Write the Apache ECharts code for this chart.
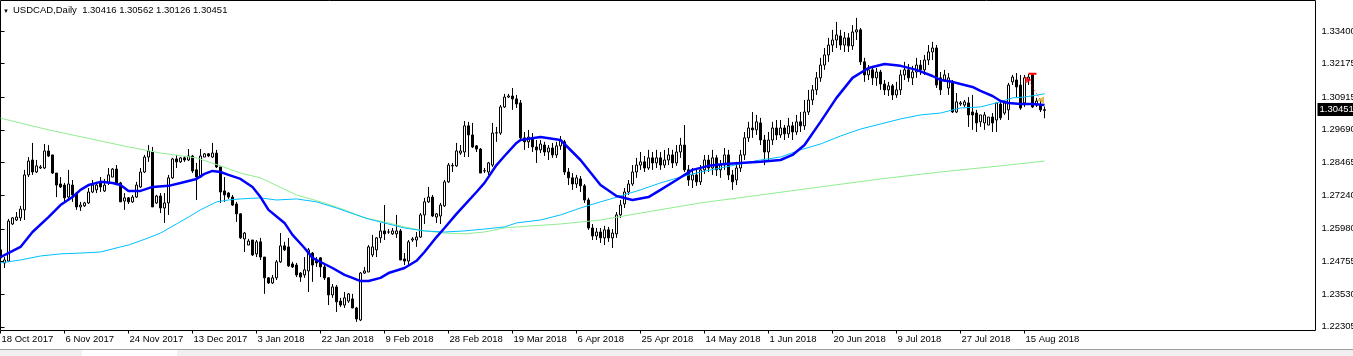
<!DOCTYPE html>
<html><head><meta charset="utf-8">
<script src="https://cdn.jsdelivr.net/npm/echarts@6/dist/echarts.min.js"></script>
<style>html,body{margin:0;padding:0;background:#fff;}#c{width:1353px;height:356px;}</style>
</head><body><div id="c"></div>
<script>
const symbolName = 'USDCAD,Daily';
const lastQuote = [1.30416, 1.30562, 1.30126, 1.30451]; // open high low close of last bar
const tickLabels = ['18 Oct 2017','6 Nov 2017','24 Nov 2017','13 Dec 2017','3 Jan 2018','22 Jan 2018','9 Feb 2018','28 Feb 2018','19 Mar 2018','6 Apr 2018','25 Apr 2018','14 May 2018','1 Jun 2018','20 Jun 2018','9 Jul 2018','27 Jul 2018','15 Aug 2018'];
const yTickValues = [1.22305,1.23530,1.24755,1.25980,1.27240,1.28465,1.29690,1.30915,1.32175,1.33400];
// daily bars: [open, close, low, high]
const ohlc = [
[1.2519,1.2489,1.2470,1.2530],[1.2470,1.2481,1.2451,1.2492],[1.2477,1.2627,1.2474,1.2635],[1.2616,1.2639,1.2612,1.2642],
[1.2631,1.2642,1.2627,1.2661],[1.2639,1.2672,1.2627,1.2684],[1.2669,1.2800,1.2631,1.2819],[1.2800,1.2852,1.2792,1.2867],
[1.2856,1.2811,1.2800,1.2920],[1.2811,1.2834,1.2807,1.2856],[1.2826,1.2830,1.2822,1.2837],[1.2826,1.2890,1.2822,1.2916],
[1.2890,1.2871,1.2867,1.2912],[1.2875,1.2807,1.2804,1.2875],[1.2807,1.2762,1.2717,1.2807],[1.2766,1.2755,1.2751,1.2792],
[1.2762,1.2714,1.2699,1.2770],[1.2717,1.2766,1.2706,1.2819],[1.2762,1.2725,1.2699,1.2781],[1.2732,1.2680,1.2669,1.2736],
[1.2680,1.2687,1.2665,1.2699],[1.2684,1.2695,1.2680,1.2699],[1.2695,1.2736,1.2691,1.2751],[1.2736,1.2762,1.2732,1.2781],
[1.2744,1.2762,1.2732,1.2774],[1.2770,1.2755,1.2736,1.2792],[1.2740,1.2762,1.2736,1.2785],[1.2770,1.2800,1.2762,1.2826],
[1.2792,1.2822,1.2792,1.2826],[1.2822,1.2770,1.2762,1.2837],[1.2770,1.2699,1.2699,1.2774],[1.2702,1.2714,1.2669,1.2732],
[1.2714,1.2699,1.2691,1.2717],[1.2699,1.2717,1.2695,1.2725],[1.2717,1.2762,1.2714,1.2774],[1.2755,1.2811,1.2751,1.2826],
[1.2811,1.2867,1.2807,1.2875],[1.2867,1.2890,1.2849,1.2912],[1.2886,1.2680,1.2680,1.2905],[1.2695,1.2721,1.2691,1.2725],
[1.2721,1.2676,1.2657,1.2732],[1.2676,1.2695,1.2620,1.2732],[1.2695,1.2789,1.2650,1.2800],[1.2789,1.2860,1.2785,1.2864],
[1.2860,1.2849,1.2826,1.2875],[1.2849,1.2864,1.2845,1.2867],[1.2864,1.2856,1.2849,1.2871],[1.2856,1.2871,1.2852,1.2897],
[1.2871,1.2815,1.2807,1.2875],[1.2819,1.2792,1.2706,1.2845],[1.2792,1.2871,1.2789,1.2897],[1.2867,1.2879,1.2867,1.2882],
[1.2879,1.2871,1.2867,1.2882],[1.2867,1.2882,1.2864,1.2920],[1.2882,1.2830,1.2826,1.2894],[1.2830,1.2736,1.2695,1.2830],
[1.2740,1.2725,1.2699,1.2792],[1.2732,1.2717,1.2710,1.2736],[1.2717,1.2687,1.2684,1.2725],[1.2691,1.2654,1.2624,1.2699],
[1.2654,1.2564,1.2560,1.2657],[1.2560,1.2582,1.2511,1.2586],[1.2537,1.2552,1.2537,1.2560],[1.2556,1.2500,1.2496,1.2556],
[1.2504,1.2549,1.2492,1.2556],[1.2549,1.2492,1.2481,1.2564],[1.2492,1.2414,1.2354,1.2492],[1.2414,1.2395,1.2391,1.2417],
[1.2395,1.2414,1.2391,1.2425],[1.2414,1.2474,1.2406,1.2481],[1.2474,1.2534,1.2470,1.2582],[1.2534,1.2519,1.2515,1.2549],
[1.2530,1.2459,1.2455,1.2564],[1.2466,1.2455,1.2451,1.2474],[1.2462,1.2425,1.2417,1.2470],[1.2432,1.2417,1.2399,1.2436],
[1.2425,1.2444,1.2414,1.2492],[1.2440,1.2519,1.2361,1.2526],[1.2507,1.2462,1.2399,1.2511],[1.2481,1.2470,1.2455,1.2492],
[1.2489,1.2455,1.2417,1.2492],[1.2455,1.2414,1.2406,1.2466],[1.2414,1.2350,1.2312,1.2417],[1.2350,1.2380,1.2339,1.2391],
[1.2380,1.2324,1.2286,1.2387],[1.2327,1.2312,1.2305,1.2339],[1.2312,1.2339,1.2301,1.2361],[1.2327,1.2354,1.2320,1.2357],
[1.2335,1.2301,1.2301,1.2354],[1.2301,1.2260,1.2249,1.2305],[1.2256,1.2432,1.2252,1.2436],[1.2432,1.2440,1.2429,1.2455],
[1.2436,1.2530,1.2436,1.2537],[1.2500,1.2530,1.2492,1.2575],[1.2519,1.2564,1.2492,1.2567],[1.2564,1.2590,1.2545,1.2620],
[1.2590,1.2579,1.2556,1.2687],[1.2586,1.2586,1.2579,1.2597],[1.2579,1.2590,1.2575,1.2601],[1.2579,1.2590,1.2564,1.2650],
[1.2590,1.2481,1.2481,1.2597],[1.2485,1.2477,1.2462,1.2507],[1.2477,1.2549,1.2462,1.2556],[1.2556,1.2560,1.2549,1.2567],
[1.2556,1.2567,1.2530,1.2586],[1.2567,1.2650,1.2564,1.2657],[1.2650,1.2699,1.2616,1.2714],[1.2699,1.2717,1.2695,1.2755],
[1.2717,1.2646,1.2642,1.2725],[1.2642,1.2654,1.2620,1.2657],[1.2646,1.2687,1.2616,1.2695],[1.2684,1.2774,1.2680,1.2781],
[1.2774,1.2837,1.2770,1.2845],[1.2834,1.2836,1.2811,1.2845],[1.2834,1.2890,1.2830,1.2920],[1.2882,1.2890,1.2875,1.2912],
[1.2886,1.2984,1.2867,1.3002],[1.2984,1.2950,1.2867,1.2999],[1.2950,1.2905,1.2901,1.2995],[1.2909,1.2897,1.2886,1.2912],
[1.2897,1.2807,1.2807,1.2901],[1.2815,1.2816,1.2807,1.2826],[1.2811,1.2845,1.2800,1.2849],[1.2837,1.2957,1.2830,1.2995],
[1.2957,1.2958,1.2924,1.2980],[1.2957,1.3055,1.2950,1.3062],[1.3055,1.3092,1.3051,1.3104],[1.3092,1.3096,1.3089,1.3104],
[1.3096,1.3085,1.3044,1.3126],
[1.3085,1.3066,1.3051,1.3100],[1.3070,1.2939,1.2931,1.3081],[1.2939,1.2924,1.2894,1.2961],[1.2924,1.2942,1.2901,1.2969],
[1.2939,1.2905,1.2886,1.2957],[1.2905,1.2894,1.2845,1.2931],[1.2894,1.2916,1.2882,1.2931],[1.2912,1.2886,1.2871,1.2924],
[1.2886,1.2901,1.2856,1.2912],[1.2901,1.2875,1.2864,1.2920],[1.2875,1.2909,1.2864,1.2924],[1.2909,1.2931,1.2894,1.2946],
[1.2924,1.2811,1.2800,1.2931],[1.2811,1.2789,1.2762,1.2826],[1.2789,1.2766,1.2744,1.2807],[1.2766,1.2789,1.2751,1.2800],
[1.2785,1.2759,1.2736,1.2796],[1.2759,1.2706,1.2695,1.2766],[1.2706,1.2601,1.2594,1.2714],[1.2601,1.2571,1.2556,1.2616],
[1.2571,1.2586,1.2556,1.2601],[1.2586,1.2564,1.2545,1.2601],[1.2564,1.2594,1.2537,1.2609],[1.2594,1.2564,1.2549,1.2605],
[1.2564,1.2582,1.2526,1.2597],[1.2579,1.2650,1.2564,1.2661],[1.2650,1.2687,1.2639,1.2706],[1.2691,1.2736,1.2676,1.2751],
[1.2736,1.2766,1.2725,1.2781],[1.2766,1.2811,1.2759,1.2837],[1.2811,1.2837,1.2789,1.2864],[1.2837,1.2849,1.2819,1.2886],
[1.2849,1.2826,1.2811,1.2871],[1.2826,1.2864,1.2819,1.2894],[1.2864,1.2845,1.2819,1.2886],[1.2845,1.2864,1.2826,1.2894],
[1.2864,1.2837,1.2819,1.2886],[1.2837,1.2856,1.2826,1.2894],[1.2856,1.2875,1.2837,1.2901],[1.2875,1.2845,1.2826,1.2894],
[1.2845,1.2886,1.2834,1.2912],[1.2886,1.2912,1.2864,1.2939],[1.2912,1.2819,1.2811,1.2987],[1.2819,1.2781,1.2759,1.2837],
[1.2781,1.2800,1.2751,1.2826],[1.2800,1.2774,1.2759,1.2819],[1.2774,1.2819,1.2762,1.2837],[1.2819,1.2856,1.2804,1.2875],
[1.2856,1.2826,1.2811,1.2875],[1.2826,1.2864,1.2800,1.2894],[1.2864,1.2819,1.2796,1.2875],[1.2819,1.2837,1.2789,1.2856],
[1.2837,1.2875,1.2819,1.2901],[1.2875,1.2800,1.2781,1.2894],[1.2800,1.2774,1.2744,1.2819],[1.2781,1.2826,1.2762,1.2849],
[1.2826,1.2875,1.2811,1.2894],[1.2875,1.2939,1.2856,1.2961],[1.2939,1.2976,1.2924,1.2999],[1.2976,1.2969,1.2939,1.3036],
[1.2969,1.2999,1.2950,1.3025],[1.2995,1.2931,1.2912,1.3014],[1.2931,1.2886,1.2837,1.2950],[1.2886,1.2931,1.2856,1.2961],
[1.2931,1.2976,1.2912,1.2999],[1.2976,1.2950,1.2931,1.3006],[1.2950,1.2976,1.2939,1.3006],[1.2976,1.2954,1.2931,1.2987],
[1.2954,1.2984,1.2939,1.3014],[1.2984,1.2961,1.2931,1.2999],[1.2961,1.2999,1.2950,1.3025],[1.2999,1.2984,1.2961,1.3036],
[1.2984,1.3036,1.2969,1.3081],[1.3036,1.3081,1.3025,1.3119],[1.3081,1.3119,1.3062,1.3137],[1.3119,1.3164,1.3100,1.3186],
[1.3164,1.3212,1.3149,1.3239],[1.3212,1.3250,1.3194,1.3276],[1.3250,1.3287,1.3224,1.3314],[1.3287,1.3306,1.3261,1.3344],
[1.3306,1.3325,1.3276,1.3374],[1.3321,1.3287,1.3269,1.3344],[1.3287,1.3314,1.3261,1.3336],[1.3314,1.3284,1.3261,1.3332],
[1.3284,1.3336,1.3269,1.3362],[1.3336,1.3344,1.3306,1.3389],[1.3344,1.3224,1.3212,1.3351],[1.3224,1.3175,1.3149,1.3239],
[1.3175,1.3194,1.3156,1.3212],[1.3194,1.3164,1.3137,1.3209],[1.3164,1.3186,1.3134,1.3201],[1.3186,1.3141,1.3119,1.3194],
[1.3141,1.3119,1.3100,1.3156],[1.3119,1.3134,1.3096,1.3149],[1.3134,1.3100,1.3081,1.3141],[1.3100,1.3119,1.3089,1.3149],
[1.3119,1.3175,1.3100,1.3194],[1.3175,1.3194,1.3156,1.3224],[1.3194,1.3164,1.3149,1.3216],[1.3164,1.3186,1.3137,1.3209],
[1.3186,1.3212,1.3164,1.3239],[1.3212,1.3194,1.3175,1.3231],[1.3194,1.3231,1.3175,1.3250],[1.3231,1.3261,1.3212,1.3287],
[1.3261,1.3276,1.3231,1.3299],[1.3276,1.3137,1.3126,1.3287],[1.3164,1.3119,1.3100,1.3186],[1.3156,1.3175,1.3149,1.3194],
[1.3126,1.3164,1.3100,1.3182],[1.3145,1.3036,1.3032,1.3156],[1.3036,1.3074,1.3032,1.3107],[1.3066,1.3070,1.3059,1.3077],
[1.3062,1.3074,1.3055,1.3081],[1.3070,1.3025,1.2980,1.3092],[1.3036,1.3025,1.2969,1.3100],[1.3032,1.2995,1.2961,1.3044],
[1.2999,1.3025,1.2980,1.3025],[1.2995,1.3025,1.2969,1.3036],[1.2987,1.3017,1.2987,1.3017],[1.3017,1.2995,1.2961,1.3032],
[1.3006,1.3070,1.2961,1.3070],[1.3066,1.3014,1.3006,1.3081],[1.3032,1.3070,1.3025,1.3074],[1.3044,1.3137,1.3006,1.3145],
[1.3149,1.3167,1.3137,1.3175],[1.3156,1.3130,1.3092,1.3182],[1.3137,1.3051,1.3044,1.3175],[1.3070,1.3164,1.3055,1.3175],
[1.3156,1.3167,1.3137,1.3179],[1.3175,1.3055,1.3051,1.3179],[1.3062,1.3077,1.3055,1.3089],[1.3062,1.3044,1.3036,1.3081],
[lastQuote[0], lastQuote[3], lastQuote[2], lastQuote[1]]
];
// moving averages: [bar index, price]
const maFast = [[0,1.2492],[5,1.2530],[8,1.2586],[12,1.2642],[15,1.2687],[18,1.2717],[20,1.2744],[22,1.2762],[25,1.2774],[28,1.2770],[30,1.2762],[32,1.2740],[35,1.2740],[38,1.2755],[42,1.2759],[45,1.2770],[49,1.2785],[51,1.2804],[53,1.2815],[55,1.2811],[57,1.2800],[60,1.2785],[63,1.2755],[65,1.2717],[67,1.2669],[71,1.2620],[73,1.2575],[76,1.2526],[78,1.2489],[81,1.2466],[83,1.2451],[86,1.2425],[88,1.2414],[90,1.2402],[92,1.2402],[95,1.2414],[97,1.2432],[101,1.2451],[104,1.2478],[106,1.2511],[109,1.2567],[111,1.2601],[114,1.2654],[116,1.2687],[119,1.2736],[121,1.2770],[124,1.2837],[126,1.2871],[129,1.2920],
[130,1.2931],[135,1.2942],[140,1.2931],[145,1.2856],[150,1.2762],[154,1.2721],[158,1.2706],[162,1.2717],[165,1.2744],[169,1.2781],[173,1.2819],[177,1.2834],[181,1.2841],[185,1.2845],[190,1.2849],[195,1.2856],[198,1.2875],[201,1.2912],[205,1.2999],[209,1.3089],[213,1.3164],[217,1.3201],[221,1.3216],[225,1.3209],[229,1.3194],[233,1.3171],[235,1.3156],[238,1.3149],[240,1.3141],[243,1.3130],[245,1.3115],[248,1.3096],[250,1.3077],[252,1.3070],[255,1.3066],[258,1.3066],[261,1.3062]];
const maMid = [[0,1.2470],[5,1.2481],[10,1.2496],[15,1.2504],[20,1.2507],[25,1.2511],[30,1.2530],[32,1.2537],[37,1.2564],[40,1.2582],[44,1.2616],[47,1.2642],[50,1.2669],[54,1.2699],[57,1.2706],[60,1.2710],[65,1.2714],[69,1.2706],[74,1.2710],[79,1.2699],[84,1.2676],[89,1.2650],[92,1.2635],[97,1.2616],[101,1.2601],[106,1.2590],[111,1.2586],[116,1.2590],[121,1.2597],[126,1.2605],[129,1.2620],
[135,1.2631],[140,1.2650],[145,1.2676],[150,1.2699],[155,1.2721],[160,1.2744],[165,1.2770],[170,1.2792],[175,1.2811],[180,1.2826],[185,1.2841],[190,1.2856],[195,1.2867],[200,1.2894],[205,1.2916],[210,1.2946],[215,1.2972],[220,1.2991],[225,1.3010],[230,1.3025],[235,1.3032],[240,1.3051],[245,1.3055],[250,1.3074],[253,1.3089],[256,1.3092],[261,1.3104]];
const maSlow = [[0,1.3013],[12,1.2969],[32,1.2905],[40,1.2882],[49,1.2864],[55,1.2834],[60,1.2807],[65,1.2789],[74,1.2725],[81,1.2695],[86,1.2669],[91,1.2639],[97,1.2620],[101,1.2605],[106,1.2590],[111,1.2582],[116,1.2579],[121,1.2586],[126,1.2601],[129,1.2605],[140,1.2616],[150,1.2631],[160,1.2657],[175,1.2695],[190,1.2725],[205,1.2755],[220,1.2785],[235,1.2811],[250,1.2834],[261,1.2852]];
// trade history marks: [bar index, price]
const tradeOpen = [257, 1.3156];
const tradeClose = [260, 1.3081];
const tradeStop = [[257, 1.3179], [259, 1.3179]];

const SLOTS = 329;                       // bar slots across the plot (incl. right shift)
const categories = Array.from({length: SLOTS}, (_, i) => i);
const font = "'Liberation Sans', Arial, sans-serif";
const yMin = 1.22166, yMax = 1.34541;
const lastClose = lastQuote[3];
const showTick = (i) => i % 16 === 0 && i / 16 < tickLabels.length;

const chart = echarts.init(document.getElementById('c'), null, {renderer: 'canvas'});
chart.setOption({
  animation: false,
  backgroundColor: '#ffffff',
  grid: [
    {left: -1.5, right: 38.5, top: 0.5, bottom: 25.5, show: false, outerBoundsMode: 'none', containLabel: false},
    {left: 0.5, right: 37.5, top: 0.5, bottom: 25.5, show: true, borderColor: '#000', borderWidth: 1, backgroundColor: 'transparent', outerBoundsMode: 'none', containLabel: false}
  ],
  xAxis: [
    {type: 'category', gridIndex: 0, data: categories, boundaryGap: true,
     axisLine: {show: false},
     axisTick: {show: true, alignWithLabel: true, length: 3, lineStyle: {color: '#000'}, interval: showTick},
     axisLabel: {show: true, color: '#000', fontFamily: font, fontSize: 9.5, align: 'left', margin: 4, padding: [0,0,0,1],
       interval: showTick,
       formatter: (v, i) => (i % 16 === 0 && tickLabels[i / 16]) ? tickLabels[i / 16] : ''},
     splitLine: {show: false}},
    {type: 'value', gridIndex: 1, show: false, min: 0, max: 1}
  ],
  yAxis: [
    {type: 'value', gridIndex: 0, min: yMin, max: yMax, show: false, scale: true},
    {type: 'value', gridIndex: 1, min: yMin, max: yMax, position: 'right', scale: true,
     axisLine: {show: false},
     axisTick: {show: true, length: 4, inside: false, lineStyle: {color: '#000'}, customValues: yTickValues},
     axisLabel: {show: true, color: '#000', fontFamily: font, fontSize: 9.5, margin: 6, customValues: yTickValues,
       formatter: (v) => v.toFixed(5)},
     splitLine: {show: false}}
  ],
  graphic: [
    {type: 'text', left: 3, top: 8, style: {text: '\u25BC', fontSize: 6, fill: '#000', fontFamily: font}},
    {type: 'text', left: 13, top: 5, style: {text: symbolName + '  ' + lastQuote.map(v => v.toFixed(5)).join(' '), fontSize: 9.5, fill: '#000', fontFamily: font}},
    {type: 'rect', left: 0, top: 349, shape: {width: 1353, height: 7}, style: {fill: '#f0f0f0', stroke: null}, z: -1},
    {type: 'line', shape: {x1: 0, y1: 349.5, x2: 1353, y2: 349.5}, style: {stroke: '#a0a0a0', lineWidth: 1}},
    {type: 'rect', left: 82, top: 350, shape: {width: 95, height: 6}, style: {fill: '#ffffff', stroke: null}}
  ],
  series: [
    {type: 'candlestick', xAxisIndex: 0, yAxisIndex: 0, data: ohlc, barWidth: 2,
     itemStyle: {color: '#ffffff', color0: '#000000', borderColor: '#000000', borderColor0: '#000000', borderWidth: 1}},
    {type: 'line', xAxisIndex: 0, yAxisIndex: 0, data: maSlow, symbol: 'none', lineStyle: {color: '#90EE90', width: 1}, z: 3},
    {type: 'line', xAxisIndex: 0, yAxisIndex: 0, data: maMid, symbol: 'none', lineStyle: {color: '#00BFFF', width: 1}, z: 4},
    {type: 'line', xAxisIndex: 0, yAxisIndex: 0, data: maFast, symbol: 'none', lineStyle: {color: '#0000FF', width: 2.5}, z: 5},
    {type: 'line', xAxisIndex: 0, yAxisIndex: 0, data: [tradeOpen, tradeClose], symbol: 'none', lineStyle: {color: '#FF0000', width: 1, type: [1, 2]}, z: 6},
    {type: 'line', xAxisIndex: 0, yAxisIndex: 0, data: tradeStop, symbol: 'none', lineStyle: {color: '#FF0000', width: 2}, z: 6},
    {type: 'scatter', xAxisIndex: 0, yAxisIndex: 0, data: [tradeOpen], symbol: 'triangle', symbolRotate: -90, symbolSize: 7, itemStyle: {color: '#FF0000'}, z: 7},
    {type: 'scatter', xAxisIndex: 0, yAxisIndex: 0, data: [tradeClose], symbol: 'triangle', symbolRotate: 90, symbolSize: 7, itemStyle: {color: '#DAA520'}, z: 7},
    {type: 'custom', xAxisIndex: 1, yAxisIndex: 1, clip: false, data: [[1, lastClose]], z: 10,
     renderItem: (params, api) => {
       const pt = api.coord([api.value(0), api.value(1)]);
       return {type: 'text', x: pt[0] + 2, y: pt[1],
         style: {text: lastClose.toFixed(5), fill: '#ffffff', backgroundColor: '#000000', padding: [2, 3, 1, 2],
           fontSize: 9.5, fontFamily: font, align: 'left', verticalAlign: 'middle'}};
     }}
  ]
});
</script>
</body></html>
